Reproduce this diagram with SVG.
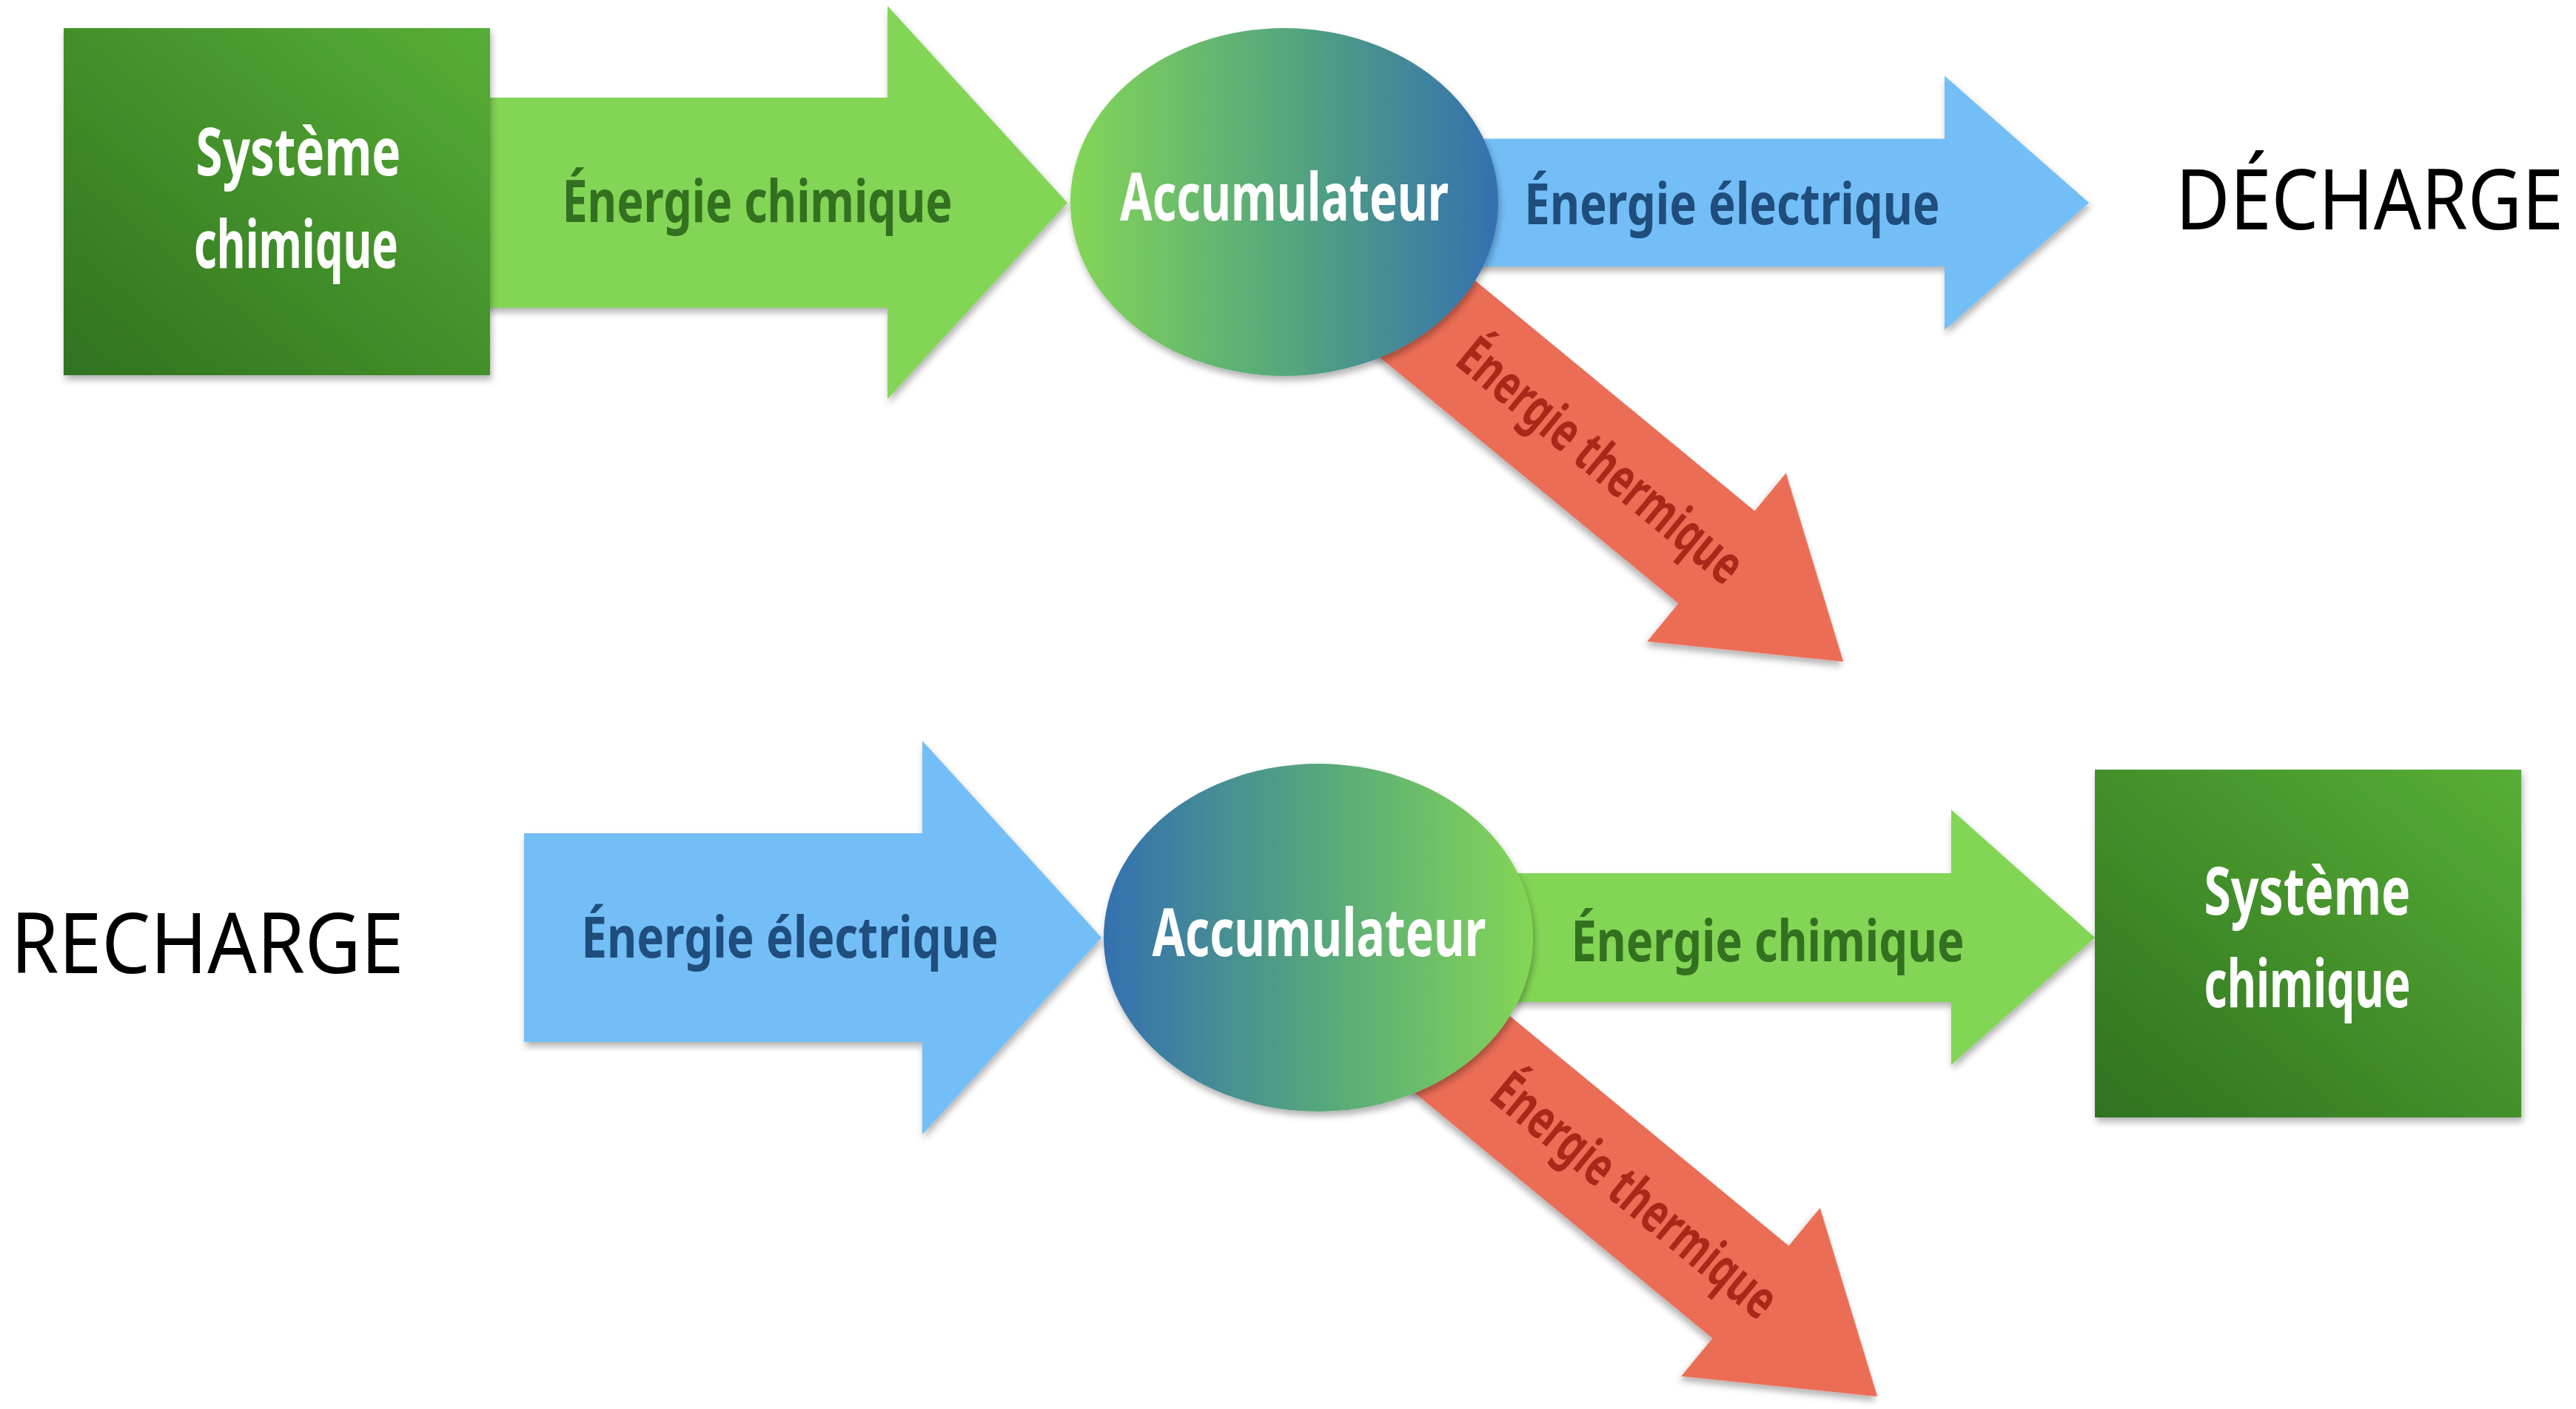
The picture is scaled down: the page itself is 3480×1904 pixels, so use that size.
<svg xmlns="http://www.w3.org/2000/svg" width="3480" height="1904" viewBox="0 0 3480 1904">
  <defs>
    <linearGradient id="gRect" x1="0" y1="1" x2="1" y2="0">
      <stop offset="0" stop-color="#2f7220"/>
      <stop offset="1" stop-color="#57ae35"/>
    </linearGradient>
    <linearGradient id="gAccGB" x1="0" y1="0" x2="1" y2="0">
      <stop offset="0" stop-color="#84d656"/>
      <stop offset="0.5" stop-color="#55a77c"/>
      <stop offset="1" stop-color="#3470b0"/>
    </linearGradient>
    <linearGradient id="gAccBG" x1="0" y1="0" x2="1" y2="0">
      <stop offset="0" stop-color="#3470b0"/>
      <stop offset="0.5" stop-color="#55a77c"/>
      <stop offset="1" stop-color="#84d656"/>
    </linearGradient>
    <filter id="sh" x="-20%" y="-20%" width="140%" height="140%">
      <feDropShadow dx="2" dy="6" stdDeviation="5" flood-color="#000" flood-opacity="0.3"/>
    </filter>
  </defs>
  <style>
    text { font-family: "Noto Sans", "DejaVu Sans", sans-serif; text-anchor: middle; }
    .lbl { font-weight: 700; font-size: 78px; }
    .lblr { font-weight: 700; font-size: 74px; }
    .node { font-weight: 700; font-size: 90px; fill: #ffffff; }
    .mode { font-weight: 400; font-size: 113px; fill: #000000; }
    .green { fill: #83d557; }
    .blue { fill: #73bef7; }
    .red { fill: #eb6d57; }
    .tg { fill: #33701f; }
    .tb { fill: #1f4d7c; }
    .tr { fill: #a8291a; }
    .shape { filter: url(#sh); }
  </style>

  <g id="connectors">
    <g id="arrow-top-chem">
      <path class="green shape" d="M 640 132 H 1199 V 8 L 1442 274 L 1199 539 V 416 H 640 Z"/>
      <text class="lbl tg" transform="translate(1023 300) scale(0.75 1)" x="0" y="0" textLength="703" lengthAdjust="spacingAndGlyphs">Énergie chimique</text>
    </g>
    <g id="arrow-top-therm" transform="translate(2319 753) rotate(39.5)">
      <path class="red shape" d="M -700 -81 H 0 V -147.5 L 222 0 L 0 147.5 V 81 H -700 Z"/>
      <text class="lblr tr" transform="translate(-204 24) scale(0.66 1)" x="0" y="0" textLength="720" lengthAdjust="spacingAndGlyphs">Énergie thermique</text>
    </g>
    <g id="arrow-top-elec">
      <path class="blue shape" d="M 1900 187.5 H 2627 V 102.5 L 2822 274 L 2627 446 V 360 H 1900 Z"/>
      <text class="lbl tb" transform="translate(2340 303) scale(0.77 1)" x="0" y="0" textLength="729" lengthAdjust="spacingAndGlyphs">Énergie électrique</text>
    </g>
    <g id="arrow-bot-elec">
      <path class="blue shape" d="M 708 1126 H 1246 V 1001 L 1488 1267 L 1246 1533 V 1408 H 708 Z"/>
      <text class="lbl tb" transform="translate(1067 1294) scale(0.77 1)" x="0" y="0" textLength="732" lengthAdjust="spacingAndGlyphs">Énergie électrique</text>
    </g>
    <g id="arrow-bot-therm" transform="translate(2365 1746) rotate(39.5)">
      <path class="red shape" d="M -700 -81 H 0 V -147.5 L 222 0 L 0 147.5 V 81 H -700 Z"/>
      <text class="lblr tr" transform="translate(-204 24) scale(0.66 1)" x="0" y="0" textLength="720" lengthAdjust="spacingAndGlyphs">Énergie thermique</text>
    </g>
    <g id="arrow-bot-chem">
      <path class="green shape" d="M 1950 1180 H 2636 V 1094 L 2830 1267 L 2636 1439 V 1354 H 1950 Z"/>
      <text class="lbl tg" transform="translate(2388 1299) scale(0.76 1)" x="0" y="0" textLength="699" lengthAdjust="spacingAndGlyphs">Énergie chimique</text>
    </g>
  </g>

  <g id="node-systeme-top">
    <rect class="shape" x="86" y="38" width="576" height="469" fill="url(#gRect)"/>
    <text class="node" transform="translate(403 237) scale(0.71 1)" x="0" y="0" textLength="390" lengthAdjust="spacingAndGlyphs">Système</text>
    <text class="node" transform="translate(400 362) scale(0.63 1)" x="0" y="0" textLength="438" lengthAdjust="spacingAndGlyphs">chimique</text>
  </g>

  <g id="node-accu-top">
    <ellipse class="shape" cx="1735" cy="273" rx="289" ry="235" fill="url(#gAccGB)"/>
    <text class="node" transform="translate(1735 298) scale(0.67 1)" x="0" y="0" textLength="663" lengthAdjust="spacingAndGlyphs">Accumulateur</text>
  </g>

  <g id="label-decharge">
    <text class="mode" transform="translate(3201 310) scale(0.91 1)" x="0" y="0" textLength="576" lengthAdjust="spacingAndGlyphs">DÉCHARGE</text>
  </g>

  <g id="label-recharge">
    <text class="mode" transform="translate(280 1315) scale(0.935 1)" x="0" y="0" textLength="568" lengthAdjust="spacingAndGlyphs">RECHARGE</text>
  </g>

  <g id="node-accu-bot">
    <ellipse class="shape" cx="1781" cy="1267" rx="290" ry="235" fill="url(#gAccBG)"/>
    <text class="node" transform="translate(1782 1292) scale(0.68 1)" x="0" y="0" textLength="663" lengthAdjust="spacingAndGlyphs">Accumulateur</text>
  </g>

  <g id="node-systeme-bot">
    <rect class="shape" x="2830" y="1040" width="576" height="470" fill="url(#gRect)"/>
    <text class="node" transform="translate(3117 1236) scale(0.71 1)" x="0" y="0" textLength="393" lengthAdjust="spacingAndGlyphs">Système</text>
    <text class="node" transform="translate(3117 1361) scale(0.63 1)" x="0" y="0" textLength="443" lengthAdjust="spacingAndGlyphs">chimique</text>
  </g>
</svg>
